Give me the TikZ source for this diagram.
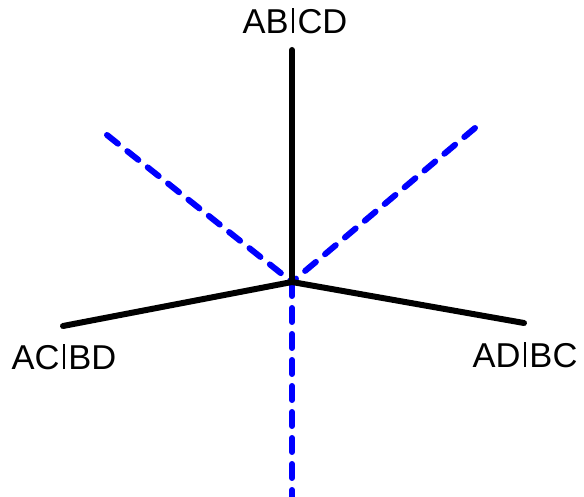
\documentclass[tikz,border=0pt]{standalone}
\usepackage{fontspec}
\setmainfont{Liberation Sans}
\newcommand\splitbar{\makebox[0.26em]{\rule{0.07em}{0.716em}}}
\begin{document}
\begin{tikzpicture}[x=1pt,y=-1pt,
  edge/.style={line width=6pt,black,line cap=round},
  dedge/.style={line width=6pt,blue,line cap=round,dash pattern=on 14pt off 12pt},
  lab/.style={font=\fontsize{34.5}{38}\selectfont,inner sep=0pt}]
\useasboundingbox (0,0) rectangle (584,497);
\coordinate (c) at (292,282);
\coordinate (t) at (292,50);
\coordinate (l) at (63,326);
\coordinate (r) at (524,323);
\coordinate (bl) at (107,135);
\coordinate (br) at (475,128);
\coordinate (bb) at (292,500);
\draw[dedge] (bl) -- (c);
\draw[dedge] (br) -- (c);
\draw[dedge] (c) -- (bb);
\draw[edge] (t) -- (c);
\draw[edge] (l) -- (c);
\draw[edge] (r) -- (c);
\node[lab] (nt) at (295,21) {AB\splitbar CD};
\node[lab] (nl) at (64,357) {AC\splitbar BD};
\node[lab] (nr) at (525,355) {AD\splitbar BC};
\end{tikzpicture}
\end{document}
